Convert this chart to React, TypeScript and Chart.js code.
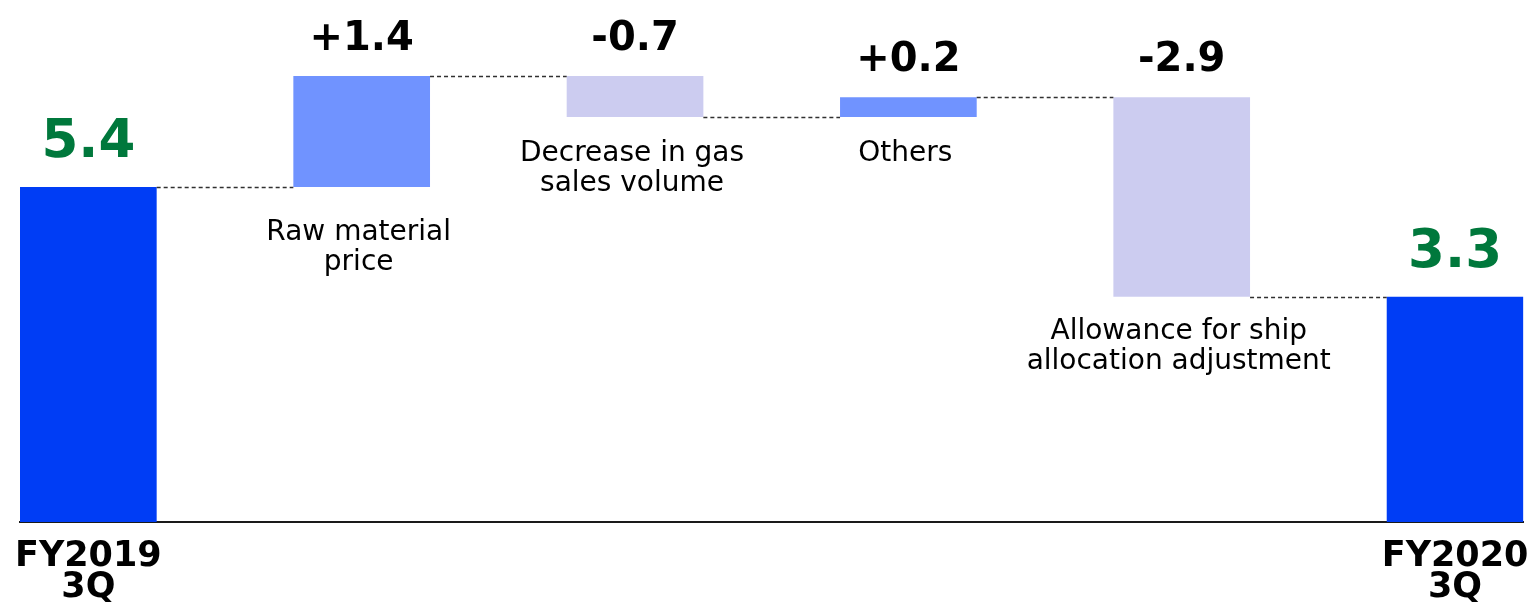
import { useEffect, useRef } from 'react';
import { Chart, registerables } from 'chart.js';

Chart.register(...registerables);

// ---- data ----
const tickLabels: string[][] = [['FY2019', '3Q'], ['FY2020', '3Q']];
const changeNames: string[][] = [
  ['Raw material', 'price'],
  ['Decrease in gas', 'sales volume'],
  ['Others'],
  ['Allowance for ship', 'allocation adjustment'],
];
const valueLabels: string[] = ['5.4', '+1.4', '-0.7', '+0.2', '-2.9', '3.3'];
// bar geometry as drawn in the picture (units scaled so the first bar = 5.4)
const startTotal = 5.4;
const levelsAfterChange: number[] = [7.19, 6.53, 6.85, 3.63];
const endTotal = 3.63;
const barKinds: string[] = ['total', 'increase', 'decrease', 'increase', 'decrease', 'total'];

const FONT = '"DejaVu Sans", Verdana, sans-serif';
const kindColor: Record<string, string> = {
  total: '#003DF5',
  increase: '#7093FF',
  decrease: '#CCCCF0',
};

function buildRanges(): number[][] {
  const r: number[][] = [[0, startTotal]];
  let prev = startTotal;
  for (const l of levelsAfterChange) {
    r.push([prev, l]);
    prev = l;
  }
  r.push([0, endTotal]);
  return r;
}

const labelPlugin = {
  id: 'waterfallLabels',
  afterDatasetsDraw(chart: any, _args: any, opts: any) {
    const ctx = chart.ctx as CanvasRenderingContext2D;
    const meta = chart.getDatasetMeta(0);
    const ys = chart.scales.y;
    const bars = meta.data as any[];
    ctx.save();

    // dashed connectors
    const connLevels = [startTotal, ...levelsAfterChange];
    ctx.setLineDash([4, 3]);
    ctx.lineWidth = 1.5;
    ctx.strokeStyle = '#303030';
    connLevels.forEach((lvl, i) => {
      const a = bars[i];
      const b = bars[i + 1];
      if (!a || !b) return;
      const py = Math.round(ys.getPixelForValue(lvl)) + 0.5;
      ctx.beginPath();
      ctx.moveTo(a.x + a.width / 2, py);
      ctx.lineTo(b.x - b.width / 2, py);
      ctx.stroke();
    });
    ctx.setLineDash([]);

    // value labels
    ctx.textAlign = 'center';
    ctx.textBaseline = 'alphabetic';
    bars.forEach((bar, i) => {
      const top = Math.min(bar.y, bar.base);
      const isTotal = barKinds[i] === 'total';
      ctx.fillStyle = isTotal ? '#00783C' : '#000000';
      ctx.font = isTotal ? `bold 53px ${FONT}` : `bold 40px ${FONT}`;
      ctx.fillText(valueLabels[i], bar.x, top - (isTotal ? 30 : 26.5));
    });

    // change names under the floating bars
    ctx.fillStyle = '#000000';
    ctx.font = `28px ${FONT}`;
    changeNames.forEach((lines, k) => {
      const bar = bars[k + 1];
      const bottom = Math.max(bar.y, bar.base);
      const gap = opts.gaps[k];
      lines.forEach((line, j) => {
        ctx.fillText(line, bar.x - 3, bottom + gap + j * 30);
      });
    });
    ctx.restore();
  },
};

export default function App() {
  const ref = useRef<HTMLCanvasElement | null>(null);

  useEffect(() => {
    if (!ref.current) return;
    const ranges = buildRanges();
    const chart = new Chart(ref.current, {
      type: 'bar',
      data: {
        datasets: [
          {
            data: ranges.map((r, i) => ({ x: i, y: r })) as any,
            backgroundColor: barKinds.map((k) => kindColor[k]),
            borderWidth: 0,
            categoryPercentage: 1,
            barPercentage: 0.5,
          },
        ],
      },
      options: {
        responsive: false,
        animation: false,
        layout: { padding: { top: 1, left: 20, right: 6.6, bottom: 0 } },
        plugins: {
          legend: { display: false },
          tooltip: { enabled: false },
          waterfallLabels: { gaps: [53, 44.5, 44, 42.5] },
        } as any,
        scales: {
          x: {
            type: 'linear',
            offset: false,
            min: -0.25,
            max: 5.25,
            afterBuildTicks: (s: any) => {
              s.ticks = [{ value: 0 }, { value: 5 }];
            },
            afterFit: (s: any) => {
              s.height = 91;
              s.paddingLeft = 0;
              s.paddingRight = 0;
            },
            grid: { display: false, drawTicks: false, offset: false },
            border: { display: true, color: '#1a1a1a', width: 2 },
            ticks: {
              autoSkip: false,
              maxRotation: 0,
              minRotation: 0,
              padding: 19,
              color: '#000000',
              font: { family: FONT, size: 35, weight: 'bold', lineHeight: 31 / 35 },
              callback: (v: any) => (v === 0 ? tickLabels[0] : v === 5 ? tickLabels[1] : ''),
            },
          },
          y: {
            display: false,
            min: 0,
            max: 8.4,
          },
        },
      } as any,
      plugins: [labelPlugin],
    });
    return () => chart.destroy();
  }, []);

  return (
    <div style={{ position: 'fixed', left: 0, top: 0, width: 1530, height: 613, background: '#ffffff' }}>
      <canvas ref={ref} width={1530} height={613} style={{ width: 1530, height: 613, display: 'block' }} />
    </div>
  );
}
